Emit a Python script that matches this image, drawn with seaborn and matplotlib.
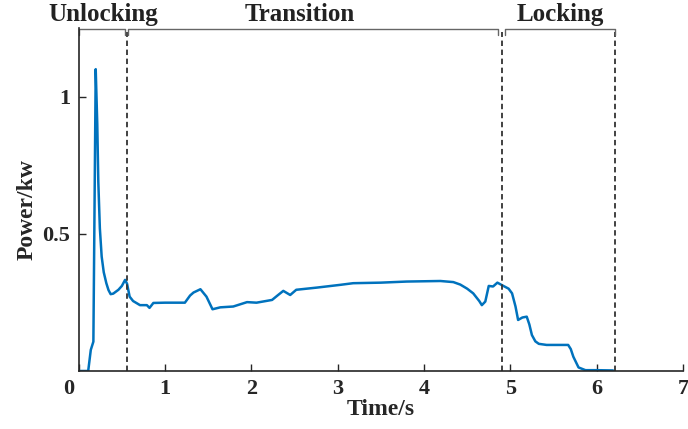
import numpy as np
import pandas as pd
import seaborn as sns
import matplotlib
matplotlib.use("Agg")
import matplotlib.pyplot as plt
from matplotlib.transforms import ScaledTranslation

# ---- data ----
time_s = [0.00, 0.11, 0.14, 0.17, 0.197, 0.215, 0.227, 0.245, 0.266, 0.29, 0.32, 0.345,
          0.37, 0.40, 0.46, 0.50, 0.537, 0.56, 0.59, 0.63, 0.71, 0.79, 0.82, 0.865,
          1.00, 1.23, 1.29, 1.33, 1.41, 1.48, 1.55, 1.64, 1.79, 1.95, 2.06, 2.24,
          2.31, 2.37, 2.45, 2.52, 2.76, 3.03, 3.18, 3.50, 3.80, 4.19, 4.34, 4.42,
          4.50, 4.57, 4.64, 4.67, 4.71, 4.75, 4.80, 4.85, 4.92, 4.98, 5.02, 5.06,
          5.09, 5.14, 5.19, 5.22, 5.25, 5.29, 5.33, 5.42, 5.67, 5.70, 5.73, 5.79,
          5.87, 6.00, 6.19]
power_kw = [0.000, 0.000, 0.077, 0.107, 1.100, 0.900, 0.690, 0.520, 0.417, 0.360, 0.320, 0.295,
            0.280, 0.282, 0.296, 0.310, 0.332, 0.318, 0.271, 0.255, 0.240, 0.240, 0.230, 0.248,
            0.249, 0.249, 0.275, 0.286, 0.298, 0.271, 0.225, 0.232, 0.235, 0.251, 0.249, 0.259,
            0.277, 0.292, 0.277, 0.296, 0.304, 0.314, 0.320, 0.322, 0.326, 0.328, 0.324, 0.315,
            0.300, 0.283, 0.255, 0.240, 0.253, 0.310, 0.308, 0.322, 0.310, 0.300, 0.283, 0.235,
            0.186, 0.195, 0.198, 0.170, 0.131, 0.108, 0.099, 0.095, 0.095, 0.080, 0.052, 0.013,
            0.003, 0.003, 0.002]

phase_names = ["Unlocking", "Transition", "Locking"]
phase_start = [0.0, 0.571, 4.94]
phase_end = [0.537, 4.86, 6.21]
phase_label_x = [0.28, 2.565, 5.58]
boundaries = [0.554, 4.905, 6.21]

x_ticks = [0, 1, 2, 3, 4, 5, 6, 7]
y_ticks = [0.5, 1]
y_tick_labels = ["0.5", "1"]

# ---- style ----
sns.set_theme(style="ticks")
plt.rcParams["font.family"] = ["Liberation Serif", "DejaVu Serif"]
plt.rcParams["font.weight"] = "bold"

fig = plt.figure(figsize=(6.88, 4.29), dpi=100)
ax = fig.add_axes([0.1144, 0.1352, 0.8783, 0.7995])

df = pd.DataFrame({"Time": time_s, "Power": power_kw})
sns.lineplot(data=df, x="Time", y="Power", ax=ax, color="#0072BD",
             linewidth=1.8, sort=False)

ax.set_xlim(0, 7)
ax.set_ylim(0, 1.25)
ax.set_xticks(x_ticks)
ax.set_xticklabels([str(t) for t in x_ticks])
ax.set_yticks(y_ticks)
ax.set_yticklabels(y_tick_labels)
ax.tick_params(direction="in", length=5, width=1, colors="#262626",
               labelsize=16, pad=6)
for lab in ax.get_xticklabels() + ax.get_yticklabels():
    lab.set_fontweight("bold")
first = ax.get_xticklabels()[0]
first.set_transform(first.get_transform() + ScaledTranslation(-0.10, 0, fig.dpi_scale_trans))

ax.set_xlabel("Time/s", fontsize=17, fontweight="bold", labelpad=0)
ax.set_ylabel("Power/kw", fontsize=17, fontweight="bold", labelpad=4)
ax.yaxis.set_label_coords(-0.068, 0.47)

for side in ["top", "right"]:
    ax.spines[side].set_visible(False)
for side in ["left", "bottom"]:
    ax.spines[side].set_linewidth(1.2)
    ax.spines[side].set_color("#262626")

# phase boundaries (dashed)
ybr = 1.245
for b in boundaries:
    ax.plot([b, b], [0, ybr - 0.01], color="#333333", lw=1.3,
            linestyle=(0, (3, 2)), clip_on=False)

# brackets and labels
for name, s, e, lx in zip(phase_names, phase_start, phase_end, phase_label_x):
    ax.plot([s, s, e, e], [ybr - 0.02, ybr, ybr, ybr - 0.02], color="#666666",
            lw=1.0, clip_on=False)
    ax.text(lx, 1.30, name, ha="center", va="center", fontsize=18,
            fontweight="bold", color="#222222", clip_on=False)

fig.savefig("out.png", dpi=100)
